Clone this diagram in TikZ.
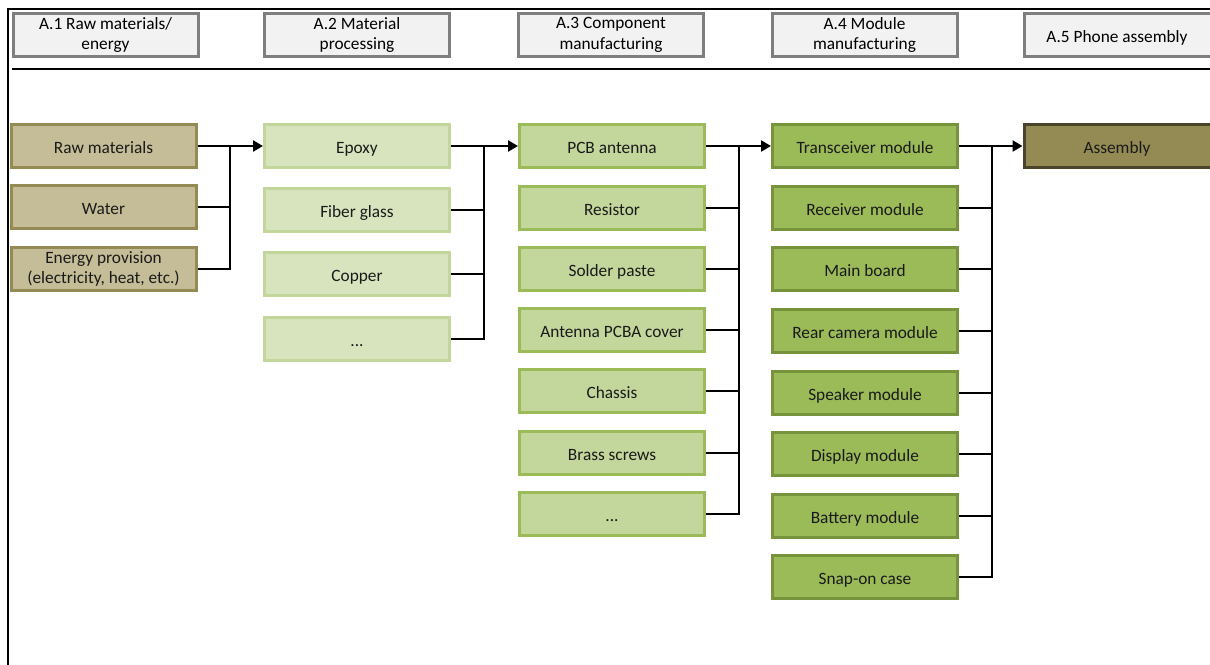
\documentclass[tikz,border=0pt]{standalone}
\usepackage{fontspec}
\setmainfont{Carlito}
\usetikzlibrary{arrows.meta}
\definecolor{hdrfill}{HTML}{F2F2F2}
\definecolor{hdrline}{HTML}{7F7F7F}
\definecolor{rawfill}{HTML}{C4BD97}
\definecolor{rawline}{HTML}{948A54}
\definecolor{matfill}{HTML}{D7E4BD}
\definecolor{matline}{HTML}{C3D69B}
\definecolor{compfill}{HTML}{C3D69B}
\definecolor{compline}{HTML}{9BBB59}
\definecolor{modfill}{HTML}{9BBB59}
\definecolor{modline}{HTML}{77933C}
\definecolor{asmfill}{HTML}{948A54}
\definecolor{asmline}{HTML}{4A452A}
\definecolor{txt}{HTML}{1A1A1A}
\tikzset{
  box/.style={rectangle, line width=3pt, minimum width=185pt, minimum height=43pt,
    inner sep=0pt, align=center, text=txt, font=\fontsize{17.3}{20.5}\selectfont,
    text height=14.5pt, text depth=0pt},
  multi/.style={text height={}, text depth={}},
  hdr/.style={box, fill=hdrfill, draw=hdrline, text=black},
  rawbox/.style={box, fill=rawfill, draw=rawline},
  matbox/.style={box, fill=matfill, draw=matline},
  compbox/.style={box, fill=compfill, draw=compline},
  modbox/.style={box, fill=modfill, draw=modline},
  asmbox/.style={box, fill=asmfill, draw=asmline},
  conn/.style={line width=2.5pt, black},
  arr/.style={conn, -{Triangle[length=10pt,width=11pt]}},
  frame/.style={line width=2pt, black}
}
\begin{document}
\begin{tikzpicture}[x=1pt,y=-1pt]
\useasboundingbox (0,0) rectangle (1210,664);
% frame
\coordinate (ftl) at (8,9);
\coordinate (ftr) at (1212,9);
\coordinate (fbl) at (8,666);
\draw[frame] (ftr) -- (ftl) -- (fbl);
\coordinate (sepl) at (12,69);
\coordinate (sepr) at (1212,69);
\draw[line width=2.5pt] (sepl) -- (sepr);
% headers
\node[hdr, multi] (h1) at (105.5,35) {A.1 Raw materials/\\energy};
\node[hdr, multi] (h2) at (357,35) {A.2 Material\\processing};
\node[hdr, multi] (h3) at (611,35) {A.3 Component\\manufacturing};
\node[hdr, multi] (h4) at (864.5,35) {A.4 Module\\manufacturing};
\node[hdr, minimum width=190pt] (h5) at (1119,35) {A.5 Phone assembly\hspace*{4pt}};
% column 1
\node[rawbox] (raw) at (103.5,146) {Raw materials};
\node[rawbox] (water) at (103.5,207) {Water};
\node[rawbox, multi] (energy) at (103.5,269) {Energy provision\\(electricity, heat, etc.)};
% column 2
\node[matbox] (epoxy) at (357,146) {Epoxy};
\node[matbox] (fiber) at (357,210) {Fiber glass};
\node[matbox] (copper) at (357,274) {Copper};
\node[matbox] (dots2) at (357,339) {...};
% column 3
\node[compbox] (pcb) at (612,146) {PCB antenna};
\node[compbox] (resistor) at (612,208) {Resistor};
\node[compbox] (solder) at (612,269) {Solder paste};
\node[compbox] (cover) at (612,330) {Antenna PCBA cover};
\node[compbox] (chassis) at (612,391) {Chassis};
\node[compbox] (brass) at (612,453) {Brass screws};
\node[compbox] (dots3) at (612,514) {...};
% column 4
\node[modbox] (trans) at (865,146) {Transceiver module};
\node[modbox] (recv) at (865,208) {Receiver module};
\node[modbox] (main) at (865,269) {Main board};
\node[modbox] (rear) at (865,331) {Rear camera module};
\node[modbox] (speaker) at (865,393) {Speaker module};
\node[modbox] (display) at (865,454) {Display module};
\node[modbox] (battery) at (865,516) {Battery module};
\node[modbox] (snap) at (865,577) {Snap-on case};
% column 5
\node[asmbox, minimum width=190pt] (asm) at (1119,146) {Assembly\hspace*{4pt}};
% connectors
\coordinate (b1) at (230,146);
\coordinate (b2) at (484,146);
\coordinate (b3) at (739,146);
\coordinate (b4) at (992,146);
\draw[arr] (raw.east) -- (epoxy.west);
\draw[conn] (water.east) -| (b1);
\draw[conn] (energy.east) -| (b1);
\draw[arr] (epoxy.east) -- (pcb.west);
\draw[conn] (fiber.east) -| (b2);
\draw[conn] (copper.east) -| (b2);
\draw[conn] (dots2.east) -| (b2);
\draw[arr] (pcb.east) -- (trans.west);
\foreach \n in {resistor,solder,cover,chassis,brass,dots3}
  \draw[conn] (\n.east) -| (b3);
\draw[arr] (trans.east) -- (asm.west);
\foreach \n in {recv,main,rear,speaker,display,battery,snap}
  \draw[conn] (\n.east) -| (b4);
\end{tikzpicture}
\end{document}
